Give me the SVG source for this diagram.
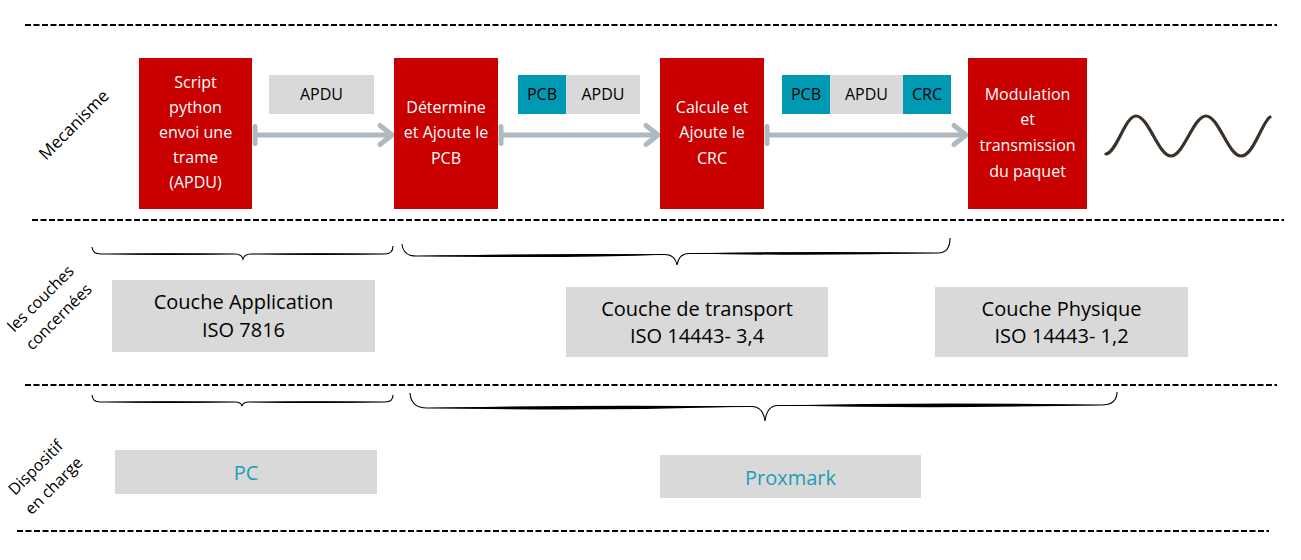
<svg xmlns="http://www.w3.org/2000/svg" width="1301" height="560" viewBox="0 0 1301 560">
<style>
  text { font-family: "Open Sans", "Liberation Sans", sans-serif; }
  .red { fill: #c80000; }
  .gray { fill: #d9d9d9; }
  .teal { fill: #0099b3; }
  .wt { fill: #ffffff; font-size: 16px; text-anchor: middle; }
  .bt { fill: #000000; font-size: 16px; text-anchor: middle; }
  .lt { fill: #000000; font-size: 20px; text-anchor: middle; }
  .dt { fill: #1f9cb6; font-size: 20px; text-anchor: middle; }
  .side { fill: #000000; font-size: 16px; text-anchor: middle; }
  .dash { stroke: #000000; stroke-width: 2; stroke-dasharray: 6 2.5; fill: none; }
  .conn { stroke: #aeb9c1; stroke-width: 5; fill: none; }
  .head { stroke: #aeb9c1; stroke-width: 5; fill: none; stroke-linecap: round; stroke-linejoin: round; }
  .brace { stroke: #000000; stroke-width: 1.1; fill: none; }
  .lens { fill: #000000; }
</style>
<rect width="1301" height="560" fill="#ffffff"/>

<g id="separators">
  <line class="dash" x1="25" y1="25" x2="1277" y2="25"/>
  <line class="dash" x1="32" y1="220" x2="1284" y2="220"/>
  <line class="dash" x1="25" y1="385" x2="1277" y2="385"/>
  <line class="dash" x1="17" y1="531" x2="1269" y2="531"/>
</g>

<g id="row-labels">
  <g id="label-mecanisme" transform="translate(74,125) rotate(-45)">
    <text class="side" style="font-size:17px" x="0" y="5.5">Mecanisme</text>
  </g>
  <g id="label-couches" transform="translate(49.5,307.5) rotate(-45)">
    <text class="side" x="0" y="-7">les couches</text>
    <text class="side" x="0" y="18.5">concernées</text>
  </g>
  <g id="label-dispositif" transform="translate(44.5,476.5) rotate(-45)">
    <text class="side" x="0" y="-7">Dispositif</text>
    <text class="side" x="0" y="18.5">en charge</text>
  </g>
</g>

<g id="connectors">
  <line class="conn" x1="255" y1="135" x2="390" y2="135"/>
  <path class="head" d="M255,126.5 L255,143.5"/>
  <path class="head" d="M380,125.5 L392,135 L380,144.5"/>

  <line class="conn" x1="501" y1="135" x2="656" y2="135"/>
  <path class="head" d="M501,126.5 L501,143.5"/>
  <path class="head" d="M646,125.5 L658,135 L646,144.5"/>

  <line class="conn" x1="767" y1="135" x2="964" y2="135"/>
  <path class="head" d="M767,126.5 L767,143.5"/>
  <path class="head" d="M954,125.5 L966,135 L954,144.5"/>
</g>

<g id="node-script">
  <rect class="red" x="139" y="58" width="113" height="151"/>
  <text class="wt" x="195.5" y="87.5">Script</text>
  <text class="wt" x="195.5" y="112.7">python</text>
  <text class="wt" x="195.5" y="137.9">envoi une</text>
  <text class="wt" x="195.5" y="163.1">trame</text>
  <text class="wt" x="195.5" y="188.3">(APDU)</text>
</g>

<g id="frame-apdu">
  <rect class="gray" x="269" y="75" width="105" height="39"/>
  <text class="bt" x="321.5" y="100">APDU</text>
</g>

<g id="node-pcb">
  <rect class="red" x="394" y="58" width="104" height="151"/>
  <text class="wt" x="446" y="112.5">Détermine</text>
  <text class="wt" x="446" y="138">et Ajoute le</text>
  <text class="wt" x="446" y="163.5">PCB</text>
</g>

<g id="frame-pcb-apdu">
  <rect class="teal" x="518" y="75" width="48" height="39"/>
  <rect class="gray" x="566" y="75" width="74" height="39"/>
  <text class="bt" x="542" y="100">PCB</text>
  <text class="bt" x="603" y="100">APDU</text>
</g>

<g id="node-crc">
  <rect class="red" x="660" y="58" width="104" height="151"/>
  <text class="wt" x="712" y="112.5">Calcule et</text>
  <text class="wt" x="712" y="138">Ajoute le</text>
  <text class="wt" x="712" y="163.5">CRC</text>
</g>

<g id="frame-pcb-apdu-crc">
  <rect class="teal" x="782" y="75" width="48" height="39"/>
  <rect class="gray" x="830" y="75" width="73" height="39"/>
  <rect class="teal" x="903" y="75" width="48" height="39"/>
  <text class="bt" x="806" y="100">PCB</text>
  <text class="bt" x="866.5" y="100">APDU</text>
  <text class="bt" x="927" y="100">CRC</text>
</g>

<g id="node-modulation">
  <rect class="red" x="968" y="58" width="119" height="151"/>
  <text class="wt" x="1027.5" y="99.5">Modulation</text>
  <text class="wt" x="1027.5" y="125">et</text>
  <text class="wt" x="1027.5" y="150.5">transmission</text>
  <text class="wt" x="1027.5" y="176.5">du paquet</text>
</g>

<g id="wave">
  <path d="M1106,154 C1117,152 1125,116 1136,116 C1148.6,116 1158.4,156 1171,156 C1183.6,156 1193.4,116 1206,116 C1218.6,116 1228.4,156 1241,156 C1253.6,156 1262,122 1270,117" fill="none" stroke="#3b3128" stroke-width="3.2" stroke-linecap="round"/>
</g>

<g id="braces">
  <path class="brace" d="M92,247 Q92.5,254 101,254 L235,254 Q241.5,254 243,259 Q244.5,254 251,254 L385,254 Q393,254 393,246"/>
  <path class="lens" d="M105,254 Q170,256.2 236,254 Q170,252.4 105,254 Z"/>
  <path class="lens" d="M250,254 Q320,256.2 386,254 Q320,252.4 250,254 Z"/>

  <path class="brace" d="M402,244 Q403,256 416,256 L665,254.5 Q675,254.5 677,265 Q679,253.5 689,253.5 L938,253 Q950,253 950,238"/>
  <path class="lens" d="M418,256 Q560,258.8 668,254.5 Q560,252.8 418,256 Z"/>
  <path class="lens" d="M688,253.5 Q815,256.3 940,253 Q815,250.6 688,253.5 Z"/>

  <path class="brace" d="M92,395 Q92.5,402 100,402 L235,402 Q241,402 242,406 Q243,402 249,402 L385,402 Q393,402 393,395"/>
  <path class="lens" d="M104,402 Q170,404 236,402 Q170,400.6 104,402 Z"/>
  <path class="lens" d="M249,402 Q320,404 386,402 Q320,400.6 249,402 Z"/>

  <path class="brace" d="M410,393 Q411,408 427,408 L752,406.5 Q763,406.5 765,421 Q767,405.5 778,405.5 L1101,405 Q1117,405 1117,392"/>
  <path class="lens" d="M428,408 Q590,411.6 752,406.5 Q590,404.2 428,408 Z"/>
  <path class="lens" d="M778,405.5 Q940,409 1102,405 Q940,401.6 778,405.5 Z"/>
</g>

<g id="layer-application">
  <rect class="gray" x="112" y="280" width="263" height="72"/>
  <text class="lt" x="243.5" y="309">Couche Application</text>
  <text class="lt" x="243.5" y="337">ISO 7816</text>
</g>

<g id="layer-transport">
  <rect class="gray" x="566" y="287" width="262" height="70"/>
  <text class="lt" x="697" y="316">Couche de transport</text>
  <text class="lt" x="697" y="343">ISO 14443- 3,4</text>
</g>

<g id="layer-physique">
  <rect class="gray" x="935" y="287" width="253" height="70"/>
  <text class="lt" x="1061.5" y="316">Couche Physique</text>
  <text class="lt" x="1061.5" y="343">ISO 14443- 1,2</text>
</g>

<g id="device-pc">
  <rect class="gray" x="115" y="450" width="262" height="44"/>
  <text class="dt" x="246" y="480">PC</text>
</g>

<g id="device-proxmark">
  <rect class="gray" x="660" y="455" width="261" height="43"/>
  <text class="dt" x="790.5" y="485">Proxmark</text>
</g>
</svg>
